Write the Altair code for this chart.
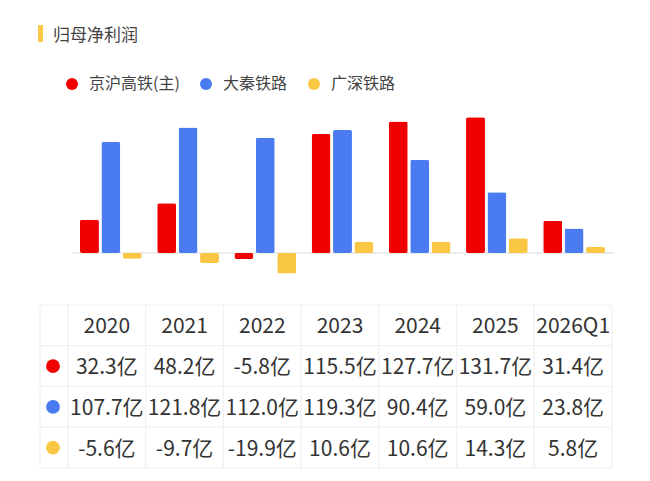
import altair as alt
import pandas as pd

years = ["2020", "2021", "2022", "2023", "2024", "2025", "2026Q1"]
series = ["京沪高铁(主)", "大秦铁路", "广深铁路"]
jinghu = [32.3, 48.2, -5.8, 115.5, 127.7, 131.7, 31.4]
daqin = [107.7, 121.8, 112.0, 119.3, 90.4, 59.0, 23.8]
guangshen = [-5.6, -9.7, -19.9, 10.6, 10.6, 14.3, 5.8]
colors = ["#F00000", "#4A7BF0", "#F9C744"]
title_text = "归母净利润"
unit = "亿"

FONT = "Noto Sans CJK SC"
values = [jinghu, daqin, guangshen]

bars_df = pd.DataFrame(
    [{"year": y, "series": s, "value": v[i]} for s, v in zip(series, values) for i, y in enumerate(years)]
)

rows = ["hdr"] + series
table_rows = [{"col": y, "row": "hdr", "label": y} for y in years]
for s, v in zip(series, values):
    for i, y in enumerate(years):
        table_rows.append({"col": y, "row": s, "label": f"{v[i]:.1f}{unit}"})
table_df = pd.DataFrame(table_rows)
cells_df = pd.DataFrame([{"col": y, "row": r} for y in years for r in rows])
rowcells_df = pd.DataFrame({"row": rows})
dots_df = pd.DataFrame({"row": series, "series": series})

color = alt.Color(
    "series:N",
    scale=alt.Scale(domain=series, range=colors),
    legend=alt.Legend(
        title=None, orient="none", legendX=56, legendY=68, direction="horizontal",
        symbolType="circle", symbolSize=145, symbolStrokeWidth=0, symbolOpacity=1,
        labelFontSize=16, labelColor="#444", labelFont=FONT, labelOffset=9,
        columnPadding=18,
    ),
)

# bar chart
bx = alt.X("year:N", scale=alt.Scale(domain=years, range=[72, 597], paddingInner=0.2, paddingOuter=0), axis=None)
by = alt.Y("value:Q", scale=alt.Scale(domain=[-30, 140], range=[275.9, 100.8], nice=False, zero=False), axis=None)

bars = alt.Chart(bars_df).mark_bar(cornerRadius=2).encode(
    x=bx,
    xOffset=alt.XOffset("series:N", scale=alt.Scale(domain=series, paddingInner=0.116, paddingOuter=0)),
    y=by,
    color=color,
)
baseline = alt.Chart(pd.DataFrame({"z": [0]})).mark_rule(color="#e6e6e6", strokeWidth=1.5).encode(
    y=alt.Y("z:Q", scale=alt.Scale(domain=[-30, 140], range=[275.9, 100.8], nice=False, zero=False), axis=None),
    x=alt.value(64), x2=alt.value(606),
)
bar_layer = alt.layer(baseline, bars)

# table
tx = alt.X("col:N", scale=alt.Scale(domain=years, range=[60, 604], paddingInner=0, paddingOuter=0), axis=None)
ty = alt.Y("row:N", scale=alt.Scale(domain=rows, range=[297, 460], paddingInner=0, paddingOuter=0), axis=None)

cells = alt.Chart(cells_df).mark_rect(fill="white", stroke="#efefef", strokeWidth=1).encode(x=tx, y=ty)
rowcells = alt.Chart(rowcells_df).mark_rect(fill="white", stroke="#efefef", strokeWidth=1).encode(
    x=alt.value(32), x2=alt.value(60), y=ty
)
texts = alt.Chart(table_df).mark_text(font=FONT, fontSize=21, color="#333", baseline="middle", dy=2).encode(
    x=tx, y=ty, text="label:N"
)
dots = alt.Chart(dots_df).mark_point(filled=True, size=190, opacity=1, shape="circle").encode(
    x=alt.value(45), y=ty, color=color
)
table_layer = alt.layer(cells, rowcells, texts, dots)

# title
tb = alt.Chart(alt.Data(values=[{"t": title_text}])).mark_rect(color="#F9C846", cornerRadius=1).encode(
    x=alt.value(30), x2=alt.value(35), y=alt.value(17), y2=alt.value(34)
)
tt = alt.Chart(alt.Data(values=[{"t": title_text}])).mark_text(
    font=FONT, fontSize=17, color="#444", align="left", baseline="middle"
).encode(x=alt.value(45), y=alt.value(28), text="t:N")

chart = (
    alt.layer(bar_layer, table_layer, tb, tt)
    .resolve_scale(x="independent", y="independent")
    .properties(width=634, height=465, autosize=alt.AutoSizeParams(type="none"), padding=0)
    .configure_view(stroke=None)
)

chart.save("out.html", embed_options={"renderer": "svg", "actions": False})
